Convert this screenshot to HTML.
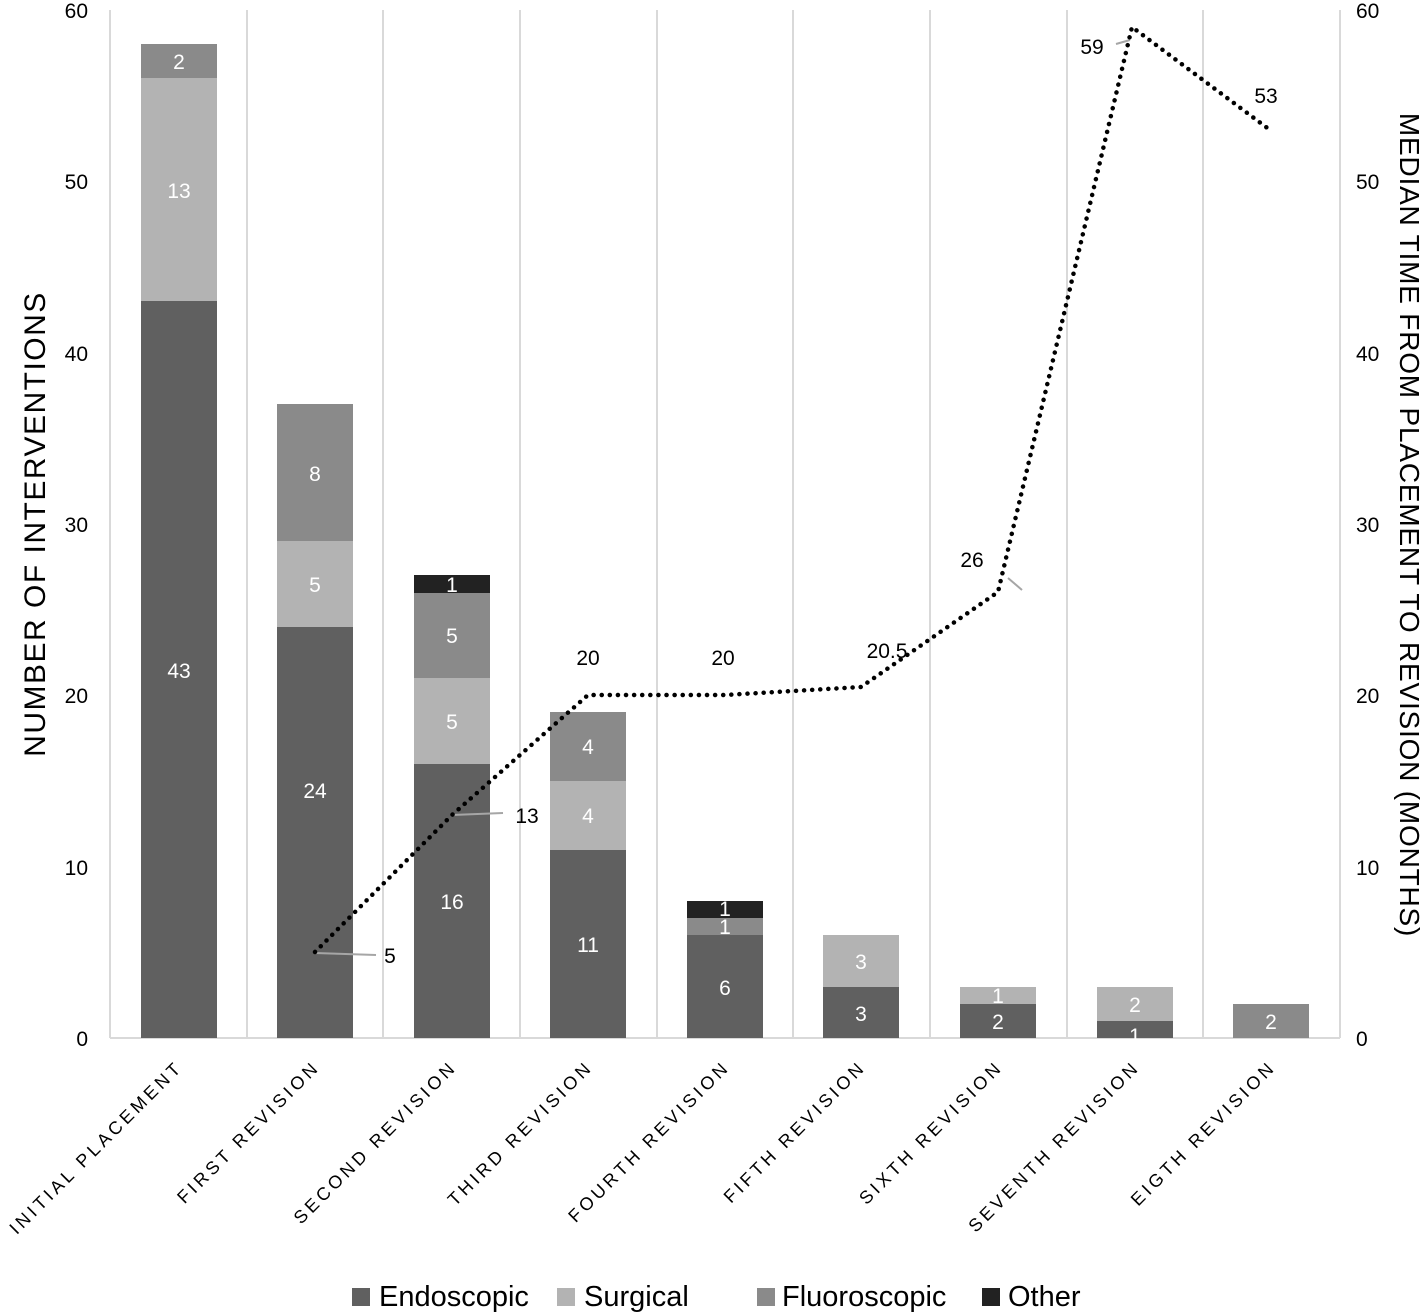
<!DOCTYPE html>
<html><head><meta charset="utf-8"><style>body{margin:0;background:#fff}svg{display:block}text{font-family:"Liberation Sans",sans-serif}</style></head>
<body>
<svg width="1428" height="1314" viewBox="0 0 1428 1314" xmlns="http://www.w3.org/2000/svg">
<g stroke="#d9d9d9" stroke-width="2">
<line x1="110" y1="10" x2="110" y2="1038"/>
<line x1="247" y1="10" x2="247" y2="1038"/><line x1="383" y1="10" x2="383" y2="1038"/>
<line x1="520" y1="10" x2="520" y2="1038"/><line x1="657" y1="10" x2="657" y2="1038"/>
<line x1="793" y1="10" x2="793" y2="1038"/><line x1="930" y1="10" x2="930" y2="1038"/>
<line x1="1067" y1="10" x2="1067" y2="1038"/><line x1="1203" y1="10" x2="1203" y2="1038"/>
<line x1="1340" y1="10" x2="1340" y2="1038"/>
<line x1="110" y1="1038" x2="1340" y2="1038"/>
</g>
<g>
<rect x="141" y="301" width="76" height="737" fill="#606060"/>
<rect x="141" y="78" width="76" height="223" fill="#b3b3b3"/>
<rect x="141" y="44" width="76" height="34" fill="#8a8a8a"/>
<rect x="277" y="627" width="76" height="411" fill="#606060"/>
<rect x="277" y="541" width="76" height="86" fill="#b3b3b3"/>
<rect x="277" y="404" width="76" height="137" fill="#8a8a8a"/>
<rect x="414" y="764" width="76" height="274" fill="#606060"/>
<rect x="414" y="678" width="76" height="86" fill="#b3b3b3"/>
<rect x="414" y="593" width="76" height="85" fill="#8a8a8a"/>
<rect x="414" y="575" width="76" height="18" fill="#222"/>
<rect x="550" y="850" width="76" height="188" fill="#606060"/>
<rect x="550" y="781" width="76" height="69" fill="#b3b3b3"/>
<rect x="550" y="712" width="76" height="69" fill="#8a8a8a"/>
<rect x="687" y="935" width="76" height="103" fill="#606060"/>
<rect x="687" y="918" width="76" height="17" fill="#8a8a8a"/>
<rect x="687" y="901" width="76" height="17" fill="#222"/>
<rect x="823" y="987" width="76" height="51" fill="#606060"/>
<rect x="823" y="935" width="76" height="52" fill="#b3b3b3"/>
<rect x="960" y="1004" width="76" height="34" fill="#606060"/>
<rect x="960" y="987" width="76" height="17" fill="#b3b3b3"/>
<rect x="1097" y="1021" width="76" height="17" fill="#606060"/>
<rect x="1097" y="987" width="76" height="34" fill="#b3b3b3"/>
<rect x="1233" y="1004" width="76" height="34" fill="#8a8a8a"/>
</g>
<g fill="#fff" font-size="21" text-anchor="middle">
<text x="179" y="69">2</text><text x="179" y="198">13</text><text x="179" y="678">43</text>
<text x="315" y="481">8</text><text x="315" y="592">5</text><text x="315" y="798">24</text>
<text x="452" y="592">1</text><text x="452" y="643">5</text><text x="452" y="729">5</text><text x="452" y="909">16</text>
<text x="588" y="754">4</text><text x="588" y="823">4</text><text x="588" y="952">11</text>
<text x="725" y="916">1</text><text x="725" y="934">1</text><text x="725" y="995">6</text>
<text x="861" y="969">3</text><text x="861" y="1021">3</text>
<text x="998" y="1003">1</text><text x="998" y="1029">2</text>
<text x="1135" y="1012">2</text><text x="1135" y="1043">1</text>
<text x="1271" y="1029">2</text>
</g>
<g stroke="#a6a6a6" stroke-width="2">
<line x1="315" y1="953" x2="376" y2="955"/>
<line x1="452" y1="815" x2="503" y2="813"/>
<line x1="1008" y1="578" x2="1022" y2="590"/>
<line x1="1116" y1="44" x2="1130" y2="40"/>
</g>
<polyline points="315,952 452,815 588,695 725,695 861,687 998,592 1132,27 1270,130" fill="none" stroke="#000" stroke-width="4.5" stroke-dasharray="0.1 8" stroke-linecap="round"/>
<g fill="#000" font-size="21" text-anchor="middle">
<text x="390" y="963">5</text><text x="527" y="823">13</text>
<text x="588" y="665">20</text><text x="723" y="665">20</text><text x="887" y="658">20.5</text>
<text x="972" y="567">26</text><text x="1092" y="54">59</text><text x="1266" y="103">53</text>
</g>
<g fill="#000" font-size="21" text-anchor="end">
<text x="88" y="1046">0</text><text x="88" y="875">10</text><text x="88" y="703">20</text>
<text x="88" y="532">30</text><text x="88" y="361">40</text><text x="88" y="189">50</text><text x="88" y="18">60</text>
</g>
<g fill="#000" font-size="21" text-anchor="start">
<text x="1356" y="1046">0</text><text x="1356" y="875">10</text><text x="1356" y="703">20</text>
<text x="1356" y="532">30</text><text x="1356" y="361">40</text><text x="1356" y="189">50</text><text x="1356" y="18">60</text>
</g>
<text transform="translate(45,524) rotate(-90)" text-anchor="middle" font-size="30" letter-spacing="1.5">NUMBER OF INTERVENTIONS</text>
<text transform="translate(1400,525) rotate(90)" text-anchor="middle" font-size="28" letter-spacing="0.8">MEDIAN TIME FROM PLACEMENT TO REVISION  (MONTHS)</text>
<g fill="#000" font-size="18" letter-spacing="3.6" text-anchor="end">
<text transform="translate(184,1068) rotate(-45)">INITIAL PLACEMENT</text>
<text transform="translate(321,1068) rotate(-45)">FIRST REVISION</text>
<text transform="translate(458,1068) rotate(-45)">SECOND REVISION</text>
<text transform="translate(594,1068) rotate(-45)">THIRD REVISION</text>
<text transform="translate(731,1068) rotate(-45)">FOURTH REVISION</text>
<text transform="translate(867,1068) rotate(-45)">FIFTH REVISION</text>
<text transform="translate(1004,1068) rotate(-45)">SIXTH REVISION</text>
<text transform="translate(1141,1068) rotate(-45)">SEVENTH REVISION</text>
<text transform="translate(1277,1068) rotate(-45)">EIGTH REVISION</text>
</g>
<g font-size="29" fill="#000">
<rect x="352" y="1288" width="18" height="18" fill="#606060"/><text x="379" y="1306">Endoscopic</text>
<rect x="557" y="1288" width="18" height="18" fill="#b3b3b3"/><text x="584" y="1306">Surgical</text>
<rect x="757" y="1288" width="18" height="18" fill="#8a8a8a"/><text x="782" y="1306">Fluoroscopic</text>
<rect x="982" y="1288" width="18" height="18" fill="#222"/><text x="1008" y="1306">Other</text>
</g>
</svg>
</body></html>
